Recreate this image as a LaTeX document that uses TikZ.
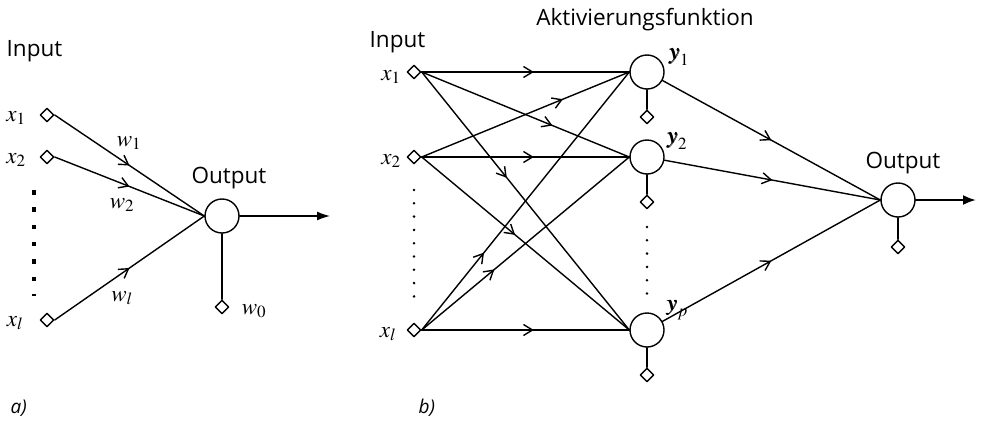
\documentclass[tikz,border=0pt]{standalone}
\usepackage{mathptmx}
\usepackage{bm}
\usepackage[no-math]{fontspec}
\setsansfont{Open Sans}
\usetikzlibrary{arrows.meta,calc,positioning,shapes.geometric,decorations.markings}
\tikzset{
  neuron/.style={circle, draw, minimum size=34pt, inner sep=0pt},
  port/.style={diamond, draw, minimum size=14pt, inner sep=0pt},
  mlbl/.style={inner sep=1pt, font=\fontsize{23}{27}\selectfont},
  slbl/.style={inner sep=0pt, font=\sffamily\fontsize{22.5}{27}\selectfont},
  midarr/.style={postaction={decorate, decoration={markings,
      mark=at position #1 with {\arrow{Straight Barb[length=9pt,width=11pt]}}}}},
  midarr/.default=0.5,
  every picture/.style={line cap=round, line join=round}
}

\begin{document}
\begin{tikzpicture}[x=1pt, y=-1pt, line width=1.4pt]
  \useasboundingbox (0,0) rectangle (984,426);

  % a)
  \node[port] (a1) at (47,115) {};
  \node[port] (a2) at (47,157) {};
  \node[port] (al) at (47,320) {};
  \node[neuron] (oa) at (222,216) {};
  \node[port] (w0) at (222,307) {};
  \coordinate (aout) at (330,216);
  \coordinate (adt) at (34,190);
  \coordinate (adb) at (34,296);

  \node[slbl, anchor=base west] (ina) at (6,56) {Input};
  \node[slbl, anchor=base] (outa) at (229,183) {Output};
  \node[mlbl] (la1) at (16,118) {$x_1$};
  \node[mlbl] (la2) at (16,160) {$x_2$};
  \node[mlbl] (lal) at (15,323) {$x_l$};
  \node[mlbl] (lw1) at (129,143) {$w_1$};
  \node[mlbl] (lw2) at (122,205) {$w_2$};
  \node[mlbl] (lwl) at (122,298) {$w_l$};
  \node[mlbl] (lw0) at (254,311) {$w_0$};
  \node[slbl, anchor=base west, font=\sffamily\itshape\fontsize{19}{23}\selectfont] (capa) at (10,413) {a)};

  \draw[midarr] (a1.east) -- (oa.west);
  \draw[midarr] (a2.east) -- (oa.west);
  \draw[midarr] (al.east) -- (oa.west);
  \draw (oa) -- (w0);
  \draw[-{Latex[length=13pt,width=9pt]}] (oa) -- (aout);
  \draw[line width=4.5pt, line cap=butt, dash pattern=on 4.5pt off 12.8pt] (adt) -- (adb);

  % b)
  \node[port] (x1) at (414,72) {};
  \node[port] (x2) at (414,157) {};
  \node[port] (xl) at (414,330) {};
  \node[neuron] (y1) at (647,72) {};
  \node[neuron] (y2) at (647,157) {};
  \node[neuron] (yp) at (647,330) {};
  \node[port] (b1) at (647,117) {};
  \node[port] (b2) at (647,202) {};
  \node[port] (bp) at (647,375) {};
  \node[neuron] (ob) at (898,200) {};
  \node[port] (bo) at (898,247) {};
  \coordinate (bout) at (976,200);
  \coordinate (xdt) at (414,190);
  \coordinate (xdb) at (414,297);
  \coordinate (ydt) at (647,227);
  \coordinate (ydb) at (647,294);

  \node[slbl, anchor=base west] (inb) at (369,47) {Input};
  \node[slbl, anchor=base] (akt) at (645,25) {Aktivierungsfunktion};
  \node[slbl, anchor=base] (outb) at (903,168) {Output};
  \node[mlbl] (lx1) at (391,77) {$x_1$};
  \node[mlbl] (lx2) at (391,161) {$x_2$};
  \node[mlbl] (lxl) at (388,334) {$x_l$};
  \node[mlbl] (ly1) at (679,57) {$\bm{y}_1$};
  \node[mlbl] (ly2) at (677,141) {$\bm{y}_2$};
  \node[mlbl] (lyp) at (677,310) {$\bm{y}_p$};
  \node[slbl, anchor=base west, font=\sffamily\itshape\fontsize{19}{23}\selectfont] (capb) at (418,413) {b)};

  \draw[midarr=0.54] (x1.east) -- (y1.west);
  \draw[midarr=0.63] (x1.east) -- (y2.west);
  \draw[midarr=0.41] (x1.east) -- (yp.west);
  \draw[midarr=0.68] (x2.east) -- (y1.west);
  \draw[midarr=0.54] (x2.east) -- (y2.west);
  \draw[midarr=0.45] (x2.east) -- (yp.west);
  \draw[midarr=0.30] (xl.east) -- (y1.west);
  \draw[midarr=0.35] (xl.east) -- (y2.west);
  \draw[midarr=0.54] (xl.east) -- (yp.west);
  \draw[midarr] (y1) -- (ob.west);
  \draw[midarr] (y2) -- (ob.west);
  \draw[midarr] (yp) -- (ob.west);
  \draw (y1) -- (b1);
  \draw (y2) -- (b2);
  \draw (yp) -- (bp);
  \draw (ob) -- (bo);
  \draw[line width=2.2pt, -{Latex[length=13pt,width=10pt]}] (ob) -- (bout);
  \draw[line width=2.8pt, dash pattern=on 0pt off 13.3pt] (xdt) -- (xdb);
  \draw[line width=2.8pt, dash pattern=on 0pt off 13.3pt] (ydt) -- (ydb);
\end{tikzpicture}
\end{document}
